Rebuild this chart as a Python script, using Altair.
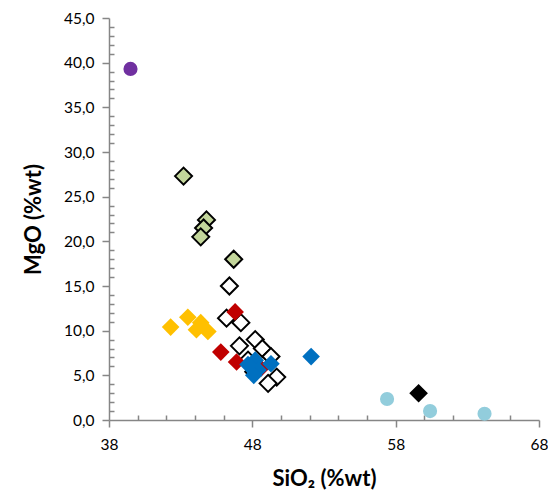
import altair as alt
import pandas as pd

# Series data (SiO2 %wt, MgO %wt)
purple_x = [39.5]
purple_y = [39.3]

green_x = [43.2, 44.8, 44.6, 44.4, 46.7]
green_y = [27.3, 22.4, 21.5, 20.5, 18.0]

white_x = [46.4, 46.2, 47.2, 47.1, 48.2, 48.7, 49.3, 47.7, 49.7, 49.1, 48.1]
white_y = [15.0, 11.4, 10.9, 8.3, 9.0, 8.0, 7.1, 6.7, 4.8, 4.1, 5.4]

yellow_x = [42.3, 43.5, 44.4, 44.1, 44.9]
yellow_y = [10.4, 11.5, 10.9, 10.1, 9.9]

red_x = [46.8, 45.8, 46.9, 48.6]
red_y = [12.1, 7.6, 6.5, 5.8]

blue_x = [48.2, 48.4, 49.3, 48.1, 47.7, 52.1]
blue_y = [6.7, 5.6, 6.3, 5.0, 6.2, 7.1]

lightblue_x = [57.4, 60.4, 64.2]
lightblue_y = [2.35, 1.0, 0.7]

black_x = [59.6]
black_y = [3.0]

x_ticks = [38, 48, 58, 68]
x_minor = [40, 42, 44, 46, 50, 52, 54, 56, 60, 62, 64, 66]
y_ticks = [0, 5, 10, 15, 20, 25, 30, 35, 40, 45]
y_minor = [v for v in range(0, 46) if v % 5 != 0]

FONT = "Lato"
AX = "#868686"

xscale = alt.Scale(domain=[38, 68], nice=False, zero=False)
yscale = alt.Scale(domain=[0, 45], nice=False)

series = [
    (purple_x, purple_y, "circle", "#7030A0", None, 200),
    (green_x, green_y, "diamond", "#C3D69B", "#000000", 290),
    (white_x, white_y, "diamond", "#FFFFFF", "#000000", 290),
    (yellow_x, yellow_y, "diamond", "#FFC000", None, 310),
    (red_x, red_y, "diamond", "#C00000", None, 310),
    (blue_x, blue_y, "diamond", "#0070C0", None, 310),
    (lightblue_x, lightblue_y, "circle", "#92CDDC", None, 200),
    (black_x, black_y, "diamond", "#000000", "#000000", 250),
]

layers = []
for i, (xs, ys, shape, fill, stroke, size) in enumerate(series):
    df = pd.DataFrame({"x": xs, "y": ys})
    kw = dict(shape=shape, fill=fill, size=size, opacity=1, fillOpacity=1)
    if stroke:
        kw.update(stroke=stroke, strokeWidth=2)
    else:
        kw.update(strokeWidth=0)
    if i == 0:
        xenc = alt.X("x:Q", scale=xscale, title="SiO₂ (%wt)",
                     axis=alt.Axis(orient="bottom", values=x_ticks, format="d", grid=False,
                                   domainColor=AX, domainWidth=1.5, tickColor=AX,
                                   tickWidth=1.5, tickSize=7, labelFont=FONT,
                                   labelFontSize=15.5, labelColor="#000000",
                                   labelPadding=10, titleFont=FONT, titleFontSize=22,
                                   titleFontWeight="bold", titleColor="#000000",
                                   titlePadding=16, labelFlush=False))
        yenc = alt.Y("y:Q", scale=yscale, title="MgO (%wt)",
                     axis=alt.Axis(orient="left", values=y_ticks, grid=False,
                                   labelExpr="replace(format(datum.value, '.1f'), '.', ',')",
                                   domainColor=AX, domainWidth=1.5, tickColor=AX,
                                   tickWidth=1.5, tickSize=7, labelFont=FONT,
                                   labelFontSize=15.5, labelColor="#000000",
                                   labelPadding=8, titleFont=FONT, titleFontSize=22,
                                   titleFontWeight="bold", titleColor="#000000",
                                   titlePadding=18, labelFlush=False))
    else:
        xenc = alt.X("x:Q", scale=xscale, axis=None)
        yenc = alt.Y("y:Q", scale=yscale, axis=None)
    layers.append(alt.Chart(df).mark_point(filled=True, **kw).encode(x=xenc, y=yenc))

# minor ticks as extra axes pointing inward
minor_df = pd.DataFrame({"x": [38], "y": [0]})
minor = alt.Chart(minor_df).mark_point(opacity=0).encode(
    x=alt.X("x:Q", scale=xscale, title=None,
            axis=alt.Axis(orient="bottom", values=x_minor, labels=False, domain=False,
                          grid=False, tickColor=AX, tickWidth=1.5, tickSize=5, offset=-5)),
    y=alt.Y("y:Q", scale=yscale, title=None,
            axis=alt.Axis(orient="left", values=y_minor, labels=False, domain=False,
                          grid=False, tickColor=AX, tickWidth=1.5, tickSize=5, offset=-5)),
)

chart = alt.layer(minor, *layers).resolve_axis(x="independent", y="independent").properties(
    width=430, height=402,
    autosize=alt.AutoSizeParams(type="none"),
    padding={"left": 101, "top": 10, "right": 9, "bottom": 70},
).configure_view(stroke=None)

chart.save("out.html", embed_options={"renderer": "svg", "actions": False})
